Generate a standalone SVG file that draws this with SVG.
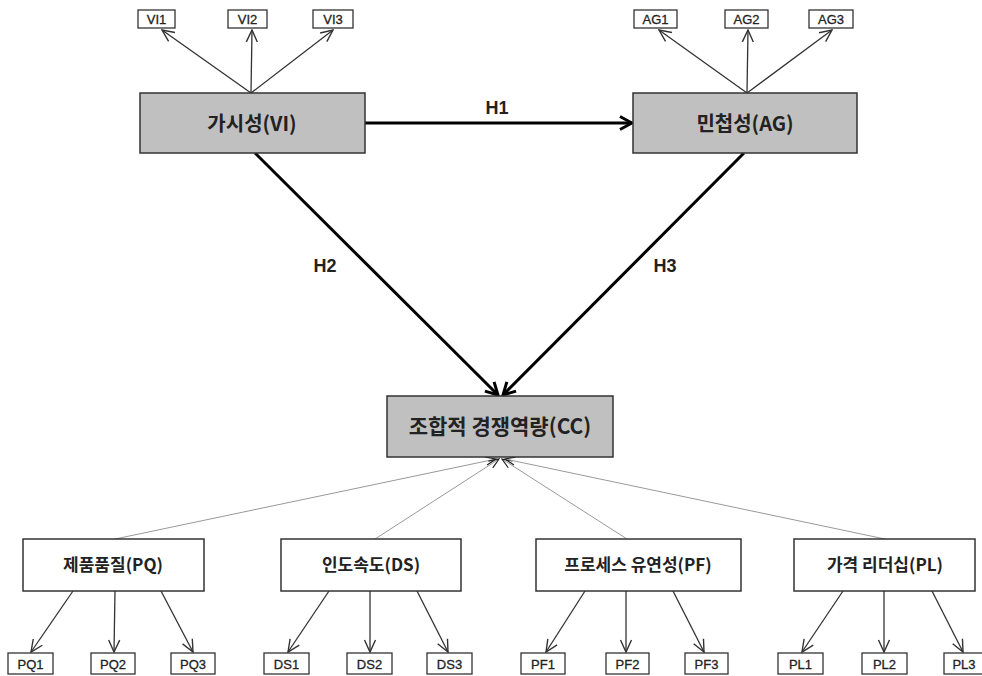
<svg xmlns="http://www.w3.org/2000/svg" width="982" height="676" viewBox="0 0 982 676">
<style>
.bg{fill:#ffffff}
.lat{fill:#c0c0c0;stroke:#333;stroke-width:1.5}
.lat2{fill:#ffffff;stroke:#333;stroke-width:1.5}
.ind{fill:#ffffff;stroke:#333;stroke-width:1.3}
.t1{font-family:"Noto Sans CJK KR","Noto Sans",sans-serif;font-weight:bold;font-size:20px;fill:#222;text-anchor:middle}
.t2{font-family:"Noto Sans CJK KR","Noto Sans",sans-serif;font-weight:bold;font-size:17px;fill:#222;text-anchor:middle}
.ti{font-family:"Liberation Sans",Arial,sans-serif;font-size:13px;fill:#222;text-anchor:middle;stroke:#222;stroke-width:0.3}
.th{font-family:"Liberation Sans",Arial,sans-serif;font-weight:bold;font-size:18px;fill:#222;text-anchor:middle}
.thick{stroke:#000;stroke-width:3;fill:none}
.thin{stroke:#333;stroke-width:1.3;fill:none}
.dot{stroke:#999;stroke-width:1;fill:none}
</style>
<defs>
<marker id="mk" viewBox="0 0 16 16" refX="14" refY="8" markerWidth="16" markerHeight="16" markerUnits="userSpaceOnUse" orient="auto">
<path d="M2,1.5 L14,8 L2,14.5" stroke="#000" stroke-width="3" fill="none"/>
</marker>
<marker id="ms" viewBox="0 0 14 14" refX="13" refY="7" markerWidth="14" markerHeight="14" markerUnits="userSpaceOnUse" orient="auto">
<path d="M1,1.5 L13,7 L1,12.5" stroke="#333" stroke-width="1.4" fill="none"/>
</marker>
<marker id="md" viewBox="0 0 12 12" refX="11" refY="6" markerWidth="12" markerHeight="12" markerUnits="userSpaceOnUse" orient="auto">
<path d="M1,2 L11,6 L1,10" stroke="#222" stroke-width="1.2" fill="none"/>
</marker>
</defs>
<rect class="bg" x="0" y="0" width="982" height="676"/>

<g id="connectors">
<line class="thick" x1="365" y1="123" x2="632" y2="123" marker-end="url(#mk)"/>
<line class="thick" x1="255" y1="153" x2="498" y2="395" marker-end="url(#mk)"/>
<line class="thick" x1="744" y1="153" x2="503" y2="395" marker-end="url(#mk)"/>
<line class="thin" x1="251" y1="93" x2="162" y2="30" marker-end="url(#ms)"/>
<line class="thin" x1="251" y1="93" x2="252" y2="30" marker-end="url(#ms)"/>
<line class="thin" x1="251" y1="93" x2="333" y2="30" marker-end="url(#ms)"/>
<line class="thin" x1="747" y1="93" x2="659" y2="30" marker-end="url(#ms)"/>
<line class="thin" x1="747" y1="93" x2="748" y2="30" marker-end="url(#ms)"/>
<line class="thin" x1="747" y1="93" x2="832" y2="30" marker-end="url(#ms)"/>
<line class="dot" x1="115" y1="539" x2="496" y2="459" marker-end="url(#md)"/>
<line class="dot" x1="375" y1="539" x2="499" y2="459" marker-end="url(#md)"/>
<line class="dot" x1="627" y1="539" x2="502" y2="459" marker-end="url(#md)"/>
<line class="dot" x1="885" y1="539" x2="505" y2="459" marker-end="url(#md)"/>
<line class="thin" x1="73" y1="591" x2="31" y2="652" marker-end="url(#ms)"/>
<line class="thin" x1="115" y1="591" x2="114" y2="652" marker-end="url(#ms)"/>
<line class="thin" x1="161" y1="591" x2="193" y2="652" marker-end="url(#ms)"/>
<line class="thin" x1="329" y1="591" x2="288" y2="652" marker-end="url(#ms)"/>
<line class="thin" x1="370" y1="591" x2="370" y2="652" marker-end="url(#ms)"/>
<line class="thin" x1="417" y1="591" x2="448" y2="652" marker-end="url(#ms)"/>
<line class="thin" x1="585" y1="591" x2="546" y2="652" marker-end="url(#ms)"/>
<line class="thin" x1="626" y1="591" x2="626" y2="652" marker-end="url(#ms)"/>
<line class="thin" x1="673" y1="591" x2="704" y2="652" marker-end="url(#ms)"/>
<line class="thin" x1="843" y1="591" x2="802" y2="652" marker-end="url(#ms)"/>
<line class="thin" x1="884" y1="591" x2="884" y2="652" marker-end="url(#ms)"/>
<line class="thin" x1="932" y1="591" x2="963" y2="652" marker-end="url(#ms)"/>
<text class="th" x="497" y="114">H1</text>
<text class="th" x="325" y="272">H2</text>
<text class="th" x="665" y="272">H3</text>
</g>

<g id="VI"><rect class="lat" x="140" y="93" width="225" height="60"/><text class="t1" x="252" y="131">가시성(VI)</text></g>
<g id="AG"><rect class="lat" x="633" y="93" width="224" height="60"/><text class="t1" x="745" y="131">민첩성(AG)</text></g>
<g id="CC"><rect class="lat" x="387" y="396" width="226" height="61"/><text class="t1" x="500" y="434" style="font-size:21px">조합적 경쟁역량(CC)</text></g>

<g id="PQ"><rect class="lat2" x="23" y="539" width="181" height="52"/><text class="t2" x="113" y="571">제품품질(PQ)</text></g>
<g id="DS"><rect class="lat2" x="281" y="539" width="180" height="52"/><text class="t2" x="371" y="571">인도속도(DS)</text></g>
<g id="PF"><rect class="lat2" x="536" y="539" width="205" height="52"/><text class="t2" x="638" y="571">프로세스 유연성(PF)</text></g>
<g id="PL"><rect class="lat2" x="794" y="539" width="181" height="52"/><text class="t2" x="885" y="571">가격 리더십(PL)</text></g>

<g id="VI1"><rect class="ind" x="138" y="10" width="37" height="18"/><text class="ti" x="156.5" y="24">VI1</text></g>
<g id="VI2"><rect class="ind" x="228" y="10" width="39" height="18"/><text class="ti" x="247.5" y="24">VI2</text></g>
<g id="VI3"><rect class="ind" x="313" y="10" width="40" height="18"/><text class="ti" x="333" y="24">VI3</text></g>
<g id="AG1"><rect class="ind" x="634" y="10" width="43" height="18"/><text class="ti" x="655.5" y="24">AG1</text></g>
<g id="AG2"><rect class="ind" x="725" y="10" width="43" height="18"/><text class="ti" x="746.5" y="24">AG2</text></g>
<g id="AG3"><rect class="ind" x="809" y="10" width="44" height="18"/><text class="ti" x="831" y="24">AG3</text></g>

<g id="PQ1"><rect class="ind" x="8" y="653" width="45" height="21"/><text class="ti" x="30.5" y="668.5">PQ1</text></g>
<g id="PQ2"><rect class="ind" x="91" y="653" width="44" height="21"/><text class="ti" x="113" y="668.5">PQ2</text></g>
<g id="PQ3"><rect class="ind" x="171" y="653" width="44" height="21"/><text class="ti" x="193" y="668.5">PQ3</text></g>
<g id="DS1"><rect class="ind" x="264" y="653" width="45" height="21"/><text class="ti" x="286.5" y="668.5">DS1</text></g>
<g id="DS2"><rect class="ind" x="347" y="653" width="45" height="21"/><text class="ti" x="369.5" y="668.5">DS2</text></g>
<g id="DS3"><rect class="ind" x="427" y="653" width="45" height="21"/><text class="ti" x="449.5" y="668.5">DS3</text></g>
<g id="PF1"><rect class="ind" x="521" y="653" width="44" height="21"/><text class="ti" x="543" y="668.5">PF1</text></g>
<g id="PF2"><rect class="ind" x="606" y="653" width="43" height="21"/><text class="ti" x="627.5" y="668.5">PF2</text></g>
<g id="PF3"><rect class="ind" x="685" y="653" width="43" height="21"/><text class="ti" x="706.5" y="668.5">PF3</text></g>
<g id="PL1"><rect class="ind" x="778" y="653" width="45" height="21"/><text class="ti" x="800.5" y="668.5">PL1</text></g>
<g id="PL2"><rect class="ind" x="862" y="653" width="45" height="21"/><text class="ti" x="884.5" y="668.5">PL2</text></g>
<g id="PL3"><rect class="ind" x="944" y="653" width="45" height="21"/><text class="ti" x="964" y="668.5">PL3</text></g>
</svg>
